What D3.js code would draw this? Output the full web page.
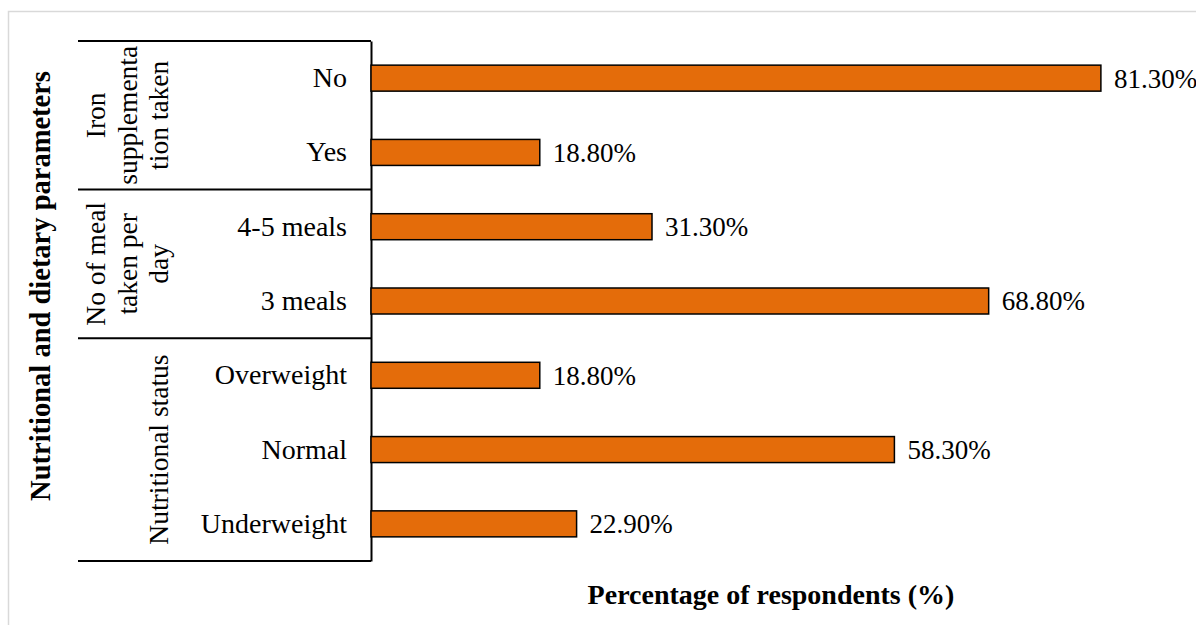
<!DOCTYPE html>
<html>
<head>
<meta charset="utf-8">
<script src="https://cdn.jsdelivr.net/npm/d3@7"></script>
<style>
  html, body { margin: 0; padding: 0; background: #fff; }
  svg { display: block; font-family: "Liberation Serif", "Times New Roman", serif; }
</style>
</head>
<body>
<div id="chart"></div>
<script>
// categories, top to bottom
const categories = ["No", "Yes", "4-5 meals", "3 meals", "Overweight", "Normal", "Underweight"];
const values = [81.3, 18.8, 31.3, 68.8, 18.8, 58.3, 22.9];
// outer category groups (label lines + how many categories each covers)
const groupLabels = [["Iron", "supplementa", "tion taken"], ["No of meal", "taken per", "day"], ["Nutritional status"]];
const groupSizes = [2, 2, 3];
const xMax = 90;

const width = 1196, height = 625;
const margin = { top: 41, right: 17, bottom: 64, left: 371 };

const svg = d3.select("#chart").append("svg")
  .attr("width", width)
  .attr("height", height);

// light chart border (runs off the right/bottom edge)
svg.append("rect")
  .attr("x", 8.5).attr("y", 11.5)
  .attr("width", 1300).attr("height", 800)
  .attr("fill", "none")
  .attr("stroke", "#d9d9d9")
  .attr("stroke-width", 1.5);

const x = d3.scaleLinear().domain([0, xMax]).range([margin.left, width - margin.right]);
const y = d3.scaleBand().domain(categories)
  .range([margin.top, height - margin.bottom])
  .paddingInner(0.65).paddingOuter(0.325);

// y axis: line + category labels
const yAxis = svg.append("g")
  .attr("transform", `translate(${margin.left},0)`)
  .call(d3.axisLeft(y).tickSize(0).tickPadding(24));
yAxis.select(".domain").attr("stroke", "#000").attr("stroke-width", 2);
yAxis.selectAll("text")
  .attr("font-family", "Liberation Serif, Times New Roman, serif")
  .attr("font-size", 28)
  .attr("fill", "#000");

// group separators
const step = y.step();
const r0 = y.range()[0];
let idx = 0;
const bounds = [r0];
groupSizes.forEach(n => { idx += n; bounds.push(r0 + step * idx); });
svg.append("g").selectAll("line")
  .data(bounds)
  .join("line")
  .attr("x1", 78).attr("x2", margin.left)
  .attr("y1", d => d).attr("y2", d => d)
  .attr("stroke", "#000")
  .attr("stroke-width", 2);

// group labels, rotated
const gl = svg.append("g");
groupLabels.forEach((lines, i) => {
  const cy = (bounds[i] + bounds[i + 1]) / 2;
  const n = lines.length;
  lines.forEach((t, j) => {
    const bx = 168 - (n - 1 - j) * 31.5;
    gl.append("text")
      .attr("transform", `translate(${bx},${cy}) rotate(-90)`)
      .attr("text-anchor", "middle")
      .attr("font-size", 27.5)
      .attr("fill", "#000")
      .text(t);
  });
});

// bars
const rows = categories.map((c, i) => ({ c, v: values[i] }));
svg.append("g").selectAll("rect")
  .data(rows)
  .join("rect")
  .attr("x", x(0))
  .attr("y", d => y(d.c))
  .attr("width", d => x(d.v) - x(0))
  .attr("height", y.bandwidth())
  .attr("fill", "#E46C0A")
  .attr("stroke", "#000")
  .attr("stroke-width", 1.5);

// value labels
svg.append("g").selectAll("text")
  .data(rows)
  .join("text")
  .attr("x", d => x(d.v) + 13)
  .attr("y", d => y(d.c) + y.bandwidth() / 2)
  .attr("dy", "0.35em")
  .attr("font-size", 27)
  .attr("fill", "#000")
  .text(d => d3.format(".2f")(d.v) + "%");

// axis titles
svg.append("text")
  .attr("x", 771).attr("y", 604)
  .attr("text-anchor", "middle")
  .attr("font-size", 28)
  .attr("font-weight", "bold")
  .text("Percentage of respondents (%)");

svg.append("text")
  .attr("transform", `translate(50,286) rotate(-90)`)
  .attr("text-anchor", "middle")
  .attr("font-size", 28.5)
  .attr("font-weight", "bold")
  .text("Nutritional and dietary parameters");
</script>
</body>
</html>
